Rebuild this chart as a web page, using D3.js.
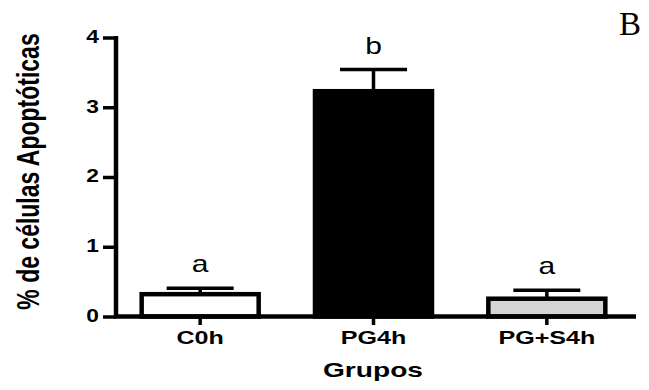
<!DOCTYPE html>
<html><head><meta charset="utf-8">
<script src="https://cdn.jsdelivr.net/npm/d3@7"></script>
<style>body{margin:0;background:#fff}svg{display:block}</style>
</head><body>
<svg id="c" width="649" height="390"></svg>
<script>
const categories = ["C0h", "PG4h", "PG+S4h"];
const values = [0.32, 3.23, 0.255];
const errors = [0.085, 0.31, 0.12];
const letters = ["a", "b", "a"];
const fills = ["#ffffff", "#000000", "#d4d4d4"];
const yTicks = [0, 1, 2, 3, 4];

const svg = d3.select("#c");
const font = "'Liberation Sans', Arial, sans-serif";
const x = d3.scaleBand().domain(categories).range([113.5, 633.5]).paddingInner(0.325).paddingOuter(0.1625);
const y = d3.scaleLinear().domain([0, 4]).range([316.5, 37.5]);

function stretch(sel, k) {
  sel.each(function () {
    const w = this.getComputedTextLength();
    d3.select(this).attr("textLength", w * k).attr("lengthAdjust", "spacingAndGlyphs");
  });
}

// bars
svg.selectAll("rect.bar").data(categories).join("rect")
  .attr("x", d => x(d)).attr("width", x.bandwidth())
  .attr("y", (d, i) => y(values[i])).attr("height", (d, i) => y(0) - y(values[i]))
  .attr("fill", (d, i) => fills[i]).attr("stroke", "#000").attr("stroke-width", 4.5);

// error bars + letters
const cw = 67;
categories.forEach((c, i) => {
  const cx = x(c) + x.bandwidth() / 2;
  const top = y(values[i] + errors[i]);
  svg.append("line").attr("x1", cx).attr("x2", cx).attr("y1", y(values[i])).attr("y2", top)
    .attr("stroke", "#000").attr("stroke-width", 3.5);
  svg.append("line").attr("x1", cx - cw / 2).attr("x2", cx + cw / 2).attr("y1", top).attr("y2", top)
    .attr("stroke", "#000").attr("stroke-width", 3.5);
  const t = svg.append("text").attr("x", cx).attr("y", top - 16)
    .attr("text-anchor", "middle").attr("font-family", font).attr("font-size", 24).text(letters[i]);
  stretch(t, 1.25);
});

// y axis
const ya = svg.append("g").attr("transform", "translate(116,0)")
  .call(d3.axisLeft(y).tickValues(yTicks).tickSize(13).tickPadding(4).tickFormat(d3.format("d")));
ya.select(".domain").attr("stroke-width", 4.5).attr("d", `M0,${y(4) - 1.5}V${y(0)}`);
ya.selectAll(".tick line").attr("stroke-width", 3.5);
ya.selectAll(".tick text").attr("font-family", font).attr("font-weight", "bold").attr("font-size", 19)
  .attr("fill", "#000").attr("dy", "0.26em");
stretch(ya.selectAll(".tick text"), 1.2);

// x axis
const xa = svg.append("g").attr("transform", `translate(0,${y(0)})`)
  .call(d3.axisBottom(x).tickSize(8.5).tickPadding(6));
xa.select(".domain").attr("stroke-width", 4.5).attr("d", "M114,0H636");
xa.selectAll(".tick line").attr("stroke-width", 3.5);
xa.selectAll(".tick text").attr("font-family", font).attr("font-weight", "bold").attr("font-size", 19)
  .attr("fill", "#000");
stretch(xa.selectAll(".tick text"), 1.32);

// axis titles
const gx = svg.append("text").attr("x", 373).attr("y", 377).attr("text-anchor", "middle")
  .attr("font-family", font).attr("font-weight", "bold").attr("font-size", 21).text("Grupos");
stretch(gx, 1.34);
svg.append("text").attr("transform", "translate(38.5,171.5) rotate(-90) scale(1,1.35)").attr("text-anchor", "middle")
  .attr("font-family", font).attr("font-weight", "bold").attr("font-size", 23).text("% de células Apoptóticas");

// panel letter
svg.append("text").attr("x", 619).attr("y", 35).attr("font-family", "'Liberation Serif', 'Times New Roman', serif")
  .attr("font-size", 33).text("B");
</script>
</body></html>
